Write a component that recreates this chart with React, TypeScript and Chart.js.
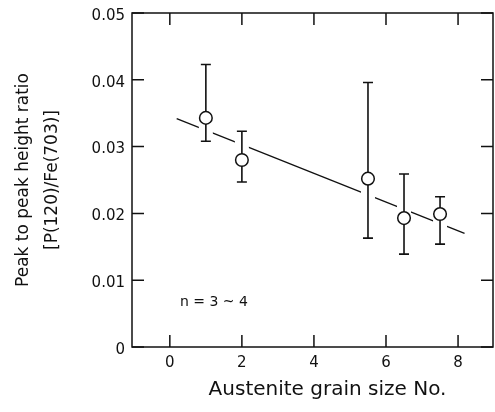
import React, { useEffect, useRef } from "react";
import { Chart, registerables } from "chart.js";

Chart.register(...registerables);

// Data
const grainSize = [1, 2, 5.5, 6.5, 7.5];
const ratioMean = [0.0343, 0.028, 0.0252, 0.0193, 0.0199];
const ratioUpper = [0.0423, 0.0323, 0.0396, 0.0259, 0.0225];
const ratioLower = [0.0308, 0.0247, 0.0163, 0.0139, 0.0154];
const fitX = [0.19, 8.18];
const fitY = [0.0342, 0.017];
const xTicks = [0, 2, 4, 6, 8];
const yTicks = [0, 0.01, 0.02, 0.03, 0.04, 0.05];
const xTitle = "Austenite grain size No.";
const yTitle = ["Peak to peak height ratio", "[P(120)/Fe(703)]"];
const noteText = "n = 3 ~ 4";
const notePos = { x: 0.28, y: 0.0067 };

const FONT = "'DejaVu Sans', sans-serif";

const decor = {
  id: "decor",
  afterDatasetDraw(chart: any, args: any) {
    if (args.index !== 1) return;
    const { ctx } = chart;
    const xs = chart.scales.x;
    const ys = chart.scales.y;
    ctx.save();
    // white halo where the fit line crosses the error bars
    grainSize.forEach((g, i) => {
      const px = xs.getPixelForValue(g);
      const top = ys.getPixelForValue(ratioUpper[i]);
      const bot = ys.getPixelForValue(ratioLower[i]);
      ctx.strokeStyle = "#ffffff";
      ctx.lineWidth = 14;
      ctx.lineCap = "butt";
      ctx.beginPath();
      ctx.moveTo(px, top);
      ctx.lineTo(px, bot);
      ctx.stroke();
    });
    // error bars
    grainSize.forEach((g, i) => {
      const px = xs.getPixelForValue(g);
      const top = ys.getPixelForValue(ratioUpper[i]);
      const bot = ys.getPixelForValue(ratioLower[i]);
      ctx.strokeStyle = "#111";
      ctx.lineWidth = 1.6;
      ctx.beginPath();
      ctx.moveTo(px, top);
      ctx.lineTo(px, bot);
      ctx.moveTo(px - 5, top);
      ctx.lineTo(px + 5, top);
      ctx.moveTo(px - 5, bot);
      ctx.lineTo(px + 5, bot);
      ctx.stroke();
    });
    ctx.restore();
  },
  afterDraw(chart: any) {
    const { ctx, chartArea } = chart;
    const xs = chart.scales.x;
    const ys = chart.scales.y;
    const { left, right, top, bottom } = chartArea;
    ctx.save();
    ctx.strokeStyle = "#111";
    ctx.lineWidth = 1.5;
    ctx.strokeRect(left, top, right - left, bottom - top);
    const tl = 12;
    ctx.beginPath();
    xTicks.forEach((v) => {
      const px = xs.getPixelForValue(v);
      ctx.moveTo(px, bottom);
      ctx.lineTo(px, bottom - tl);
      ctx.moveTo(px, top);
      ctx.lineTo(px, top + tl);
    });
    yTicks.forEach((v) => {
      const py = ys.getPixelForValue(v);
      ctx.moveTo(left, py);
      ctx.lineTo(left + tl, py);
      ctx.moveTo(right, py);
      ctx.lineTo(right - tl, py);
    });
    ctx.stroke();
    // annotation
    ctx.fillStyle = "#111";
    ctx.font = `14px ${FONT}`;
    ctx.textAlign = "left";
    ctx.textBaseline = "middle";
    ctx.fillText(noteText, xs.getPixelForValue(notePos.x), ys.getPixelForValue(notePos.y));
    // x axis title
    ctx.font = `20px ${FONT}`;
    ctx.textAlign = "center";
    ctx.textBaseline = "middle";
    ctx.fillText(xTitle, (left + right) / 2 + 15, 390);
    ctx.restore();
  },
};

export default function App() {
  const ref = useRef<HTMLCanvasElement | null>(null);

  useEffect(() => {
    if (!ref.current) return;
    const chart = new Chart(ref.current, {
      type: "scatter",
      data: {
        datasets: [
          {
            type: "scatter",
            data: grainSize.map((g, i) => ({ x: g, y: ratioMean[i] })),
            pointRadius: 6.3,
            pointHoverRadius: 6.3,
            pointBorderWidth: 1.5,
            borderColor: "#111",
            backgroundColor: "#ffffff",
            order: 0,
          } as any,
          {
            type: "line",
            data: fitX.map((x, i) => ({ x, y: fitY[i] })),
            borderColor: "#111",
            borderWidth: 1.3,
            pointRadius: 0,
            fill: false,
            order: 1,
          } as any,
        ],
      },
      options: {
        responsive: false,
        animation: false,
        events: [],
        layout: { autoPadding: false, padding: { top: 13, right: 2, left: 0, bottom: 0 } },
        plugins: {
          legend: { display: false },
          tooltip: { enabled: false },
          title: { display: false },
        },
        scales: {
          x: {
            type: "linear",
            min: -1.05,
            max: 8.97,
            grid: { display: false, drawTicks: false },
            border: { display: false },
            afterBuildTicks: (s: any) => {
              s.ticks = xTicks.map((v) => ({ value: v }));
            },
            afterFit: (s: any) => {
              s.height = 65;
              s.paddingLeft = 0;
              s.paddingRight = 0;
            },
            ticks: {
              color: "#111",
              padding: 7,
              font: { family: FONT, size: 15 },
              callback: (v: any) => String(v),
            },
          },
          y: {
            type: "linear",
            min: 0,
            max: 0.05,
            grid: { display: false, drawTicks: false },
            border: { display: false },
            afterBuildTicks: (s: any) => {
              s.ticks = yTicks.map((v) => ({ value: v }));
            },
            afterFit: (s: any) => {
              s.width = 132;
              s.paddingTop = 0;
              s.paddingBottom = 0;
            },
            ticks: {
              color: "#111",
              padding: 7,
              labelOffset: 3,
              font: { family: FONT, size: 15 },
              callback: (v: any) => (Number(v) === 0 ? "0" : Number(v).toFixed(2)),
            },
            title: {
              display: true,
              text: yTitle,
              color: "#111",
              font: { family: FONT, size: 17, lineHeight: 1.7 },
              padding: { top: 9, bottom: 0 },
            },
          },
        },
      },
      plugins: [decor],
    } as any);
    return () => chart.destroy();
  }, []);

  return (
    <div style={{ position: "fixed", left: 0, top: 0, width: 495, height: 412, background: "#fff" }}>
      <canvas ref={ref} width={495} height={412} />
    </div>
  );
}
